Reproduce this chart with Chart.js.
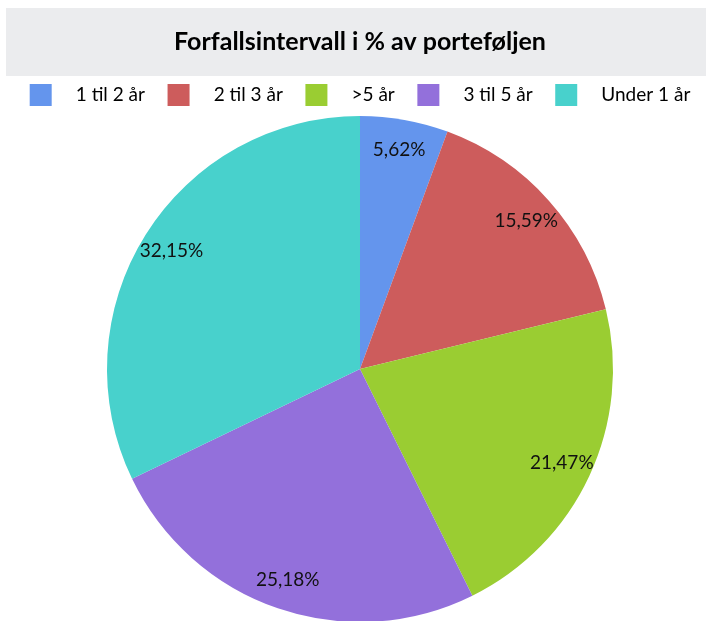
<!DOCTYPE html>
<html>
<head>
<meta charset="utf-8">
<script src="https://cdn.jsdelivr.net/npm/chart.js@4.4.1/dist/chart.umd.min.js"></script>
<style>
  html, body { margin: 0; padding: 0; background: #fff; overflow: hidden; }
  #wrap { position: relative; width: 706px; height: 622px; }
</style>
</head>
<body>
<div id="wrap"><canvas id="chart"></canvas></div>
<script>
// Maturity buckets, share of portfolio (%)
const categories = ['1 til 2 år', '2 til 3 år', '>5 år', '3 til 5 år', 'Under 1 år'];
const shares = [5.62, 15.59, 21.47, 25.18, 32.15];
const valueLabels = ['5,62%', '15,59%', '21,47%', '25,18%', '32,15%'];

const colors = ['#6495ED', '#CD5C5C', '#9ACD32', '#9370DB', '#48D1CC'];
const fontFamily = 'Lato, "Open Sans", sans-serif';

// grey band behind the title
const titleBand = {
  id: 'titleBand',
  beforeDraw(chart) {
    const t = chart.titleBlock;
    if (!t) return;
    const ctx = chart.ctx;
    ctx.save();
    ctx.fillStyle = '#EBECEE';
    ctx.fillRect(6, t.top, chart.width - 6, t.height);
    ctx.restore();
  }
};

// percentage text inside each slice
const sliceLabels = {
  id: 'sliceLabels',
  afterDatasetsDraw(chart) {
    const ctx = chart.ctx;
    const meta = chart.getDatasetMeta(0);
    ctx.save();
    ctx.font = '19px ' + fontFamily;
    ctx.fillStyle = '#111';
    ctx.textAlign = 'center';
    ctx.textBaseline = 'middle';
    meta.data.forEach((arc, i) => {
      const mid = (arc.startAngle + arc.endAngle) / 2;
      const r = arc.outerRadius * 0.88;
      ctx.fillText(valueLabels[i], arc.x + Math.cos(mid) * r, arc.y + Math.sin(mid) * r);
    });
    ctx.restore();
  }
};

new Chart(document.getElementById('chart'), {
  type: 'pie',
  data: {
    labels: categories,
    datasets: [{
      data: shares,
      backgroundColor: colors,
      borderWidth: 0
    }]
  },
  options: {
    responsive: true,
    maintainAspectRatio: false,
    animation: false,
    layout: { padding: { top: 8, left: 14, right: 0, bottom: 0 } },
    plugins: {
      title: {
        display: true,
        text: 'Forfallsintervall i % av porteføljen',
        color: '#000',
        font: { family: fontFamily, size: 25, weight: 'bold' },
        padding: { top: 19, bottom: 19 }
      },
      legend: {
        position: 'top',
        labels: {
          boxWidth: 22,
          boxHeight: 22,
          padding: 8,
          color: '#000',
          font: { family: fontFamily, size: 19 },
          generateLabels(chart) {
            const items = Chart.overrides.pie.plugins.legend.labels.generateLabels(chart);
            items.forEach((it, i) => {
              it.text = '   ' + it.text + (i < items.length - 1 ? '   ' : '');
              it.lineWidth = 0;
            });
            return items;
          }
        }
      },
      tooltip: { enabled: false }
    }
  },
  plugins: [titleBand, sliceLabels]
});
</script>
</body>
</html>
